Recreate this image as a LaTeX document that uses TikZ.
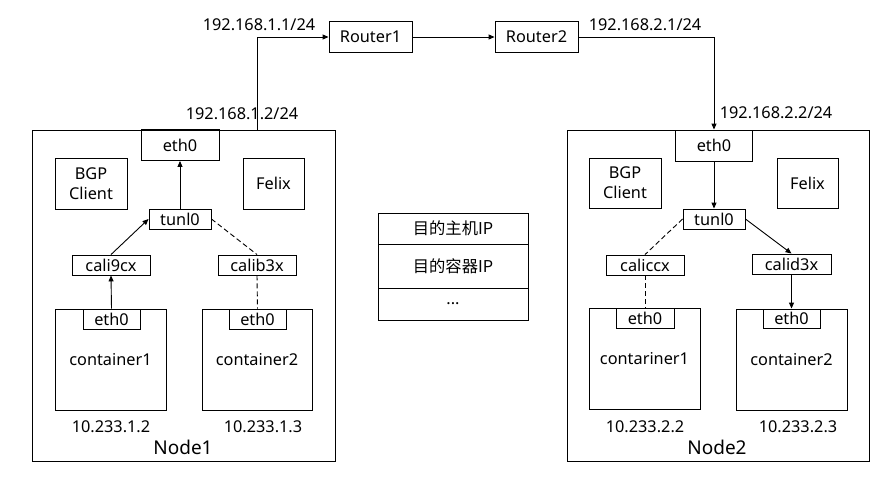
\documentclass[tikz,border=0pt]{standalone}
\usepackage{fontspec}
\setmainfont{Noto Sans}
\newfontfamily\cjk{Noto Sans CJK SC}
\usetikzlibrary{arrows.meta, positioning}

\begin{document}
\begin{tikzpicture}[x=1pt, y=-1pt, line width=0.9pt,
  every node/.style={font=\fontsize{16.3}{20}\selectfont, inner sep=0pt},
  box/.style={draw, rectangle, align=center},
  arr/.style={-{Triangle[length=6pt,width=5pt]}},
  dsh/.style={dash pattern=on 5pt off 3pt},
  lbl/.style={font=\fontsize{16.3}{20}\selectfont},
  nodelbl/.style={font=\fontsize{19}{22}\selectfont}]
\useasboundingbox (0,0) rectangle (890,479);

% node 1
\node[box, minimum width=303pt, minimum height=331pt] (node1) at (183.5,295.5) {};
\node[box, minimum width=78pt, minimum height=31pt] (n1eth) at (180,145) {eth0};
\node[box, minimum width=72pt, minimum height=51pt] (bgp1) at (91,183.5) {BGP\\Client};
\node[box, minimum width=61pt, minimum height=51pt] (felix1) at (273.5,183.5) {Felix};
\node[box, minimum width=62pt, minimum height=20pt] (tunl1) at (180,219) {tunl0};
\node[box, minimum width=78pt, minimum height=20pt] (cali9cx) at (111,265) {cali9cx};
\node[box, minimum width=78pt, minimum height=20pt] (calib3x) at (257,265) {calib3x};
\node[box, minimum width=111pt, minimum height=101pt] (cont1) at (110.5,359.5) {container1};
\node[box, minimum width=57pt, minimum height=20pt] (c1eth) at (111.5,319) {eth0};
\node[box, minimum width=110pt, minimum height=101pt] (cont2) at (257,359.5) {container2};
\node[box, minimum width=57pt, minimum height=20pt] (c2eth) at (257.5,319) {eth0};
\node[lbl] (ip1) at (111,427) {10.233.1.2};
\node[lbl] (ip2) at (263,427) {10.233.1.3};
\node[nodelbl] (name1) at (183,447) {Node1};

% routers
\node[box, minimum width=83pt, minimum height=31pt] (router1) at (370.5,37) {Router1};
\node[box, minimum width=83pt, minimum height=31pt] (router2) at (536.5,37) {Router2};

% node 2
\node[box, minimum width=302pt, minimum height=331pt] (node2) at (718,295.5) {};
\node[box, minimum width=77pt, minimum height=31pt] (n2eth) at (714,145.5) {eth0};
\node[box, minimum width=72pt, minimum height=50pt] (bgp2) at (625,183) {BGP\\Client};
\node[box, minimum width=61pt, minimum height=50pt] (felix2) at (807.5,183) {Felix};
\node[box, minimum width=62pt, minimum height=20pt] (tunl2) at (714,219) {tunl0};
\node[box, minimum width=78pt, minimum height=20pt] (caliccx) at (645,265) {caliccx};
\node[box, minimum width=79pt, minimum height=20pt] (calid3x) at (791.5,264) {calid3x};
\node[box, minimum width=111pt, minimum height=101pt] (cont3) at (644.5,358.5) {contariner1};
\node[box, minimum width=58pt, minimum height=20pt] (c3eth) at (645,318) {eth0};
\node[box, minimum width=111pt, minimum height=101pt] (cont4) at (791.5,359.5) {container2};
\node[box, minimum width=57pt, minimum height=19pt] (c4eth) at (791.5,318.5) {eth0};
\node[lbl] (ip3) at (645,427) {10.233.2.2};
\node[lbl] (ip4) at (798,427) {10.233.2.3};
\node[nodelbl] (name2) at (717,447) {Node2};

% packet header
\node[box, minimum width=150pt, minimum height=31pt] (row1) at (453,228.5) {\cjk 目的主机IP};
\node[box, minimum width=150pt, minimum height=44pt] (row2) at (453,266) {\cjk 目的容器IP};
\node[box, minimum width=150pt, minimum height=32pt] (row3) at (453,304) {...};

% links
\coordinate (up1) at (257,130);
\draw[arr] (up1) |- (router1.west);
\draw[arr] (router1.east) -- (router2.west);
\draw[arr] (router2.east) -| (n2eth.north);
\node[lbl] (a11) at (259,25) {192.168.1.1/24};
\node[lbl] (a12) at (242,114) {192.168.1.2/24};
\node[lbl] (a21) at (645,25) {192.168.2.1/24};
\node[lbl] (a22) at (776,113) {192.168.2.2/24};

\draw[arr] (c1eth.north) -- (cali9cx.south);
\draw[arr] (cali9cx.north) -- (tunl1.west);
\draw[arr] (tunl1.north) -- (n1eth.south);
\draw[dsh] (tunl1.east) -- (calib3x.north);
\draw[dsh] (calib3x.south) -- (c2eth.north);

\draw[arr] (n2eth.south) -- (tunl2.north);
\draw[dsh] (tunl2.west) -- (caliccx.north);
\draw[arr] (tunl2.east) -- (calid3x.north);
\draw[dsh] (caliccx.south) -- (c3eth.north);
\draw[arr] (calid3x.south) -- (c4eth.north);

\end{tikzpicture}
\end{document}
